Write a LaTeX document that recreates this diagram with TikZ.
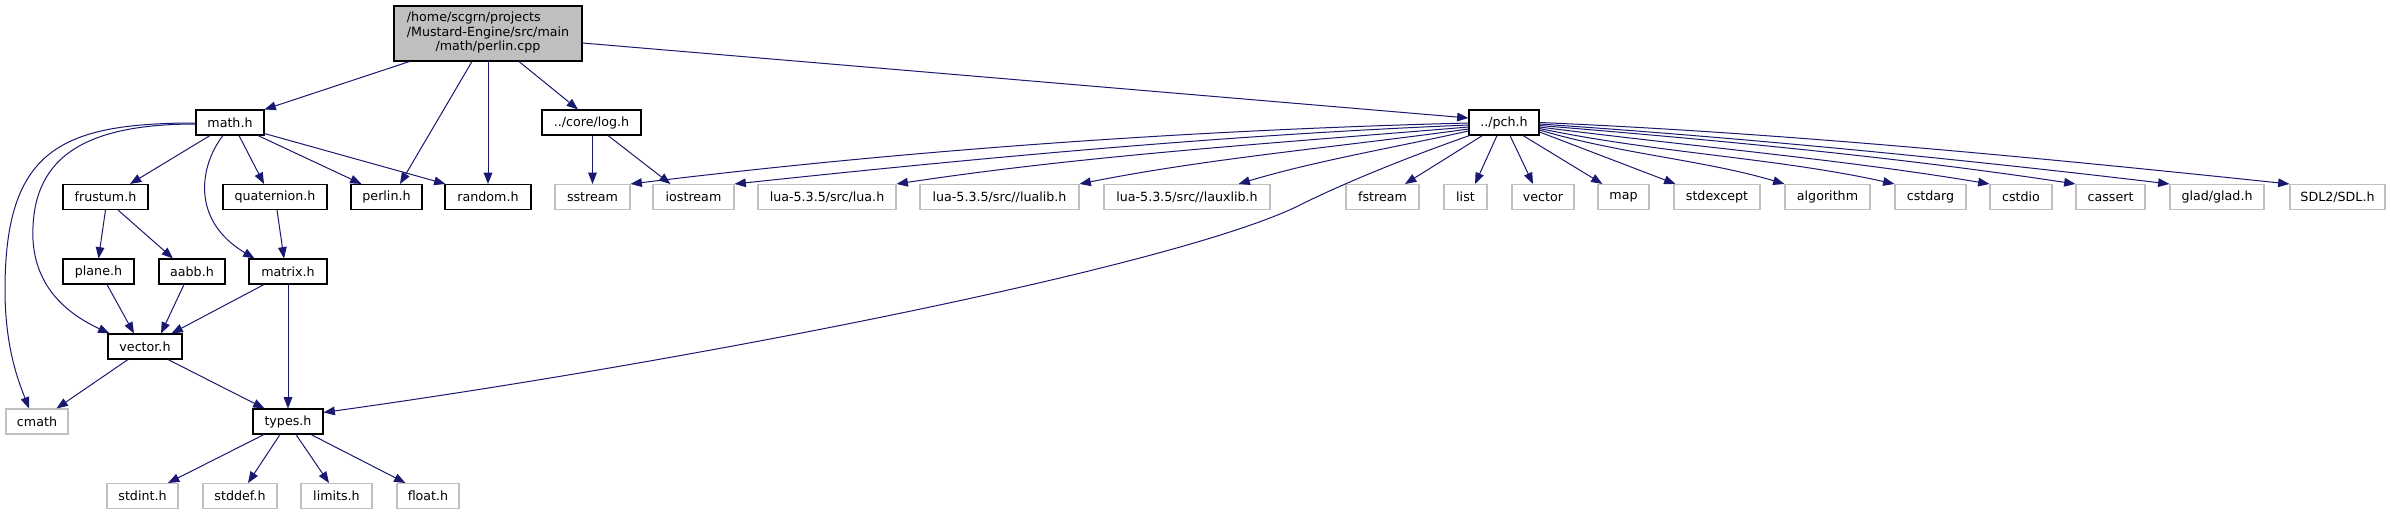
\documentclass[tikz,border=0pt]{standalone}
\usepackage{fontspec}
\setmainfont{DejaVu Sans}
\usetikzlibrary{arrows.meta,calc}
\definecolor{edgeblue}{HTML}{191970}
\definecolor{grayb}{HTML}{BFBFBF}
\begin{document}
\begin{tikzpicture}[x=0.75pt,y=-0.75pt,
  every node/.style={font=\fontsize{9.5pt}{10.9pt}\selectfont, inner sep=0pt, minimum height=18.75pt},
  pbox/.style={draw=black, line width=0.8pt, fill=white},
  sbox/.style={draw=grayb, line width=0.8pt, fill=white},
  conn/.style={draw=edgeblue, line width=0.75pt, -{Triangle[length=8.5pt,width=6.5pt]}},
]
\useasboundingbox[fill=white] (0,0) rectangle (2391,515);

% root
\node[draw=black, fill=grayb, line width=0.8pt, minimum width=188*0.75pt, minimum height=55*0.75pt] (perlincpp) at (488,33.5)
  {\begin{tabular}{@{}l@{}}/home/scgrn/projects\\/Mustard-Engine/src/main\\\multicolumn{1}{@{}c@{}}{/math/perlin.cpp}\end{tabular}};

% row 2
\node[pbox, minimum width=68*0.75pt] (mathh) at (230,122.5) {math.h};
\node[pbox, minimum width=99*0.75pt] (logh) at (591.5,122.5) {../core/log.h};
\node[pbox, minimum width=70*0.75pt] (pchh) at (1504,122.5) {../pch.h};

% row 3
\node[pbox, minimum width=85*0.75pt] (frustum) at (105.5,197) {frustum.h};
\node[pbox, minimum width=104*0.75pt] (quat) at (275,197) {quaternion.h};
\node[pbox, minimum width=71*0.75pt] (perlinh) at (386.5,197) {perlin.h};
\node[pbox, minimum width=86*0.75pt] (randomh) at (488,197) {random.h};
\node[sbox, minimum width=75*0.75pt] (sstream) at (592.5,197) {sstream};
\node[sbox, minimum width=81*0.75pt] (iostream) at (693.5,197) {iostream};
\node[sbox, minimum width=138*0.75pt] (luah) at (827,197) {lua-5.3.5/src/lua.h};
\node[sbox, minimum width=159*0.75pt] (lualib) at (999.5,197) {lua-5.3.5/src//lualib.h};
\node[sbox, minimum width=166*0.75pt] (lauxlib) at (1187,197) {lua-5.3.5/src//lauxlib.h};
\node[sbox, minimum width=73*0.75pt] (fstream) at (1382.5,197) {fstream};
\node[sbox, minimum width=43*0.75pt] (list) at (1465.5,197) {list};
\node[sbox, minimum width=62*0.75pt] (vectorstd) at (1543,197) {vector};
\node[sbox, minimum width=51*0.75pt] (map) at (1623.5,197) {map};
\node[sbox, minimum width=86*0.75pt] (stdexcept) at (1717,197) {stdexcept};
\node[sbox, minimum width=85*0.75pt] (algorithm) at (1827.5,197) {algorithm};
\node[sbox, minimum width=71*0.75pt] (cstdarg) at (1930.5,197) {cstdarg};
\node[sbox, minimum width=62*0.75pt] (cstdio) at (2021,197) {cstdio};
\node[sbox, minimum width=69*0.75pt] (cassert) at (2110.5,197) {cassert};
\node[sbox, minimum width=94*0.75pt] (glad) at (2217,197) {glad/glad.h};
\node[sbox, minimum width=95*0.75pt] (sdl) at (2337.5,197) {SDL2/SDL.h};

% row 4
\node[pbox, minimum width=71*0.75pt] (plane) at (98.5,271.5) {plane.h};
\node[pbox, minimum width=66*0.75pt] (aabb) at (192,271.5) {aabb.h};
\node[pbox, minimum width=78*0.75pt] (matrix) at (288,271.5) {matrix.h};

% row 5
\node[pbox, minimum width=74*0.75pt] (vectorh) at (145,346.5) {vector.h};

% row 6
\node[sbox, minimum width=62*0.75pt] (cmath) at (37,421.5) {cmath};
\node[pbox, minimum width=70*0.75pt] (types) at (288,421.5) {types.h};

% row 7
\node[sbox, minimum width=71*0.75pt] (stdint) at (142.5,496) {stdint.h};
\node[sbox, minimum width=74*0.75pt] (stddef) at (240,496) {stddef.h};
\node[sbox, minimum width=71*0.75pt] (limits) at (336.5,496) {limits.h};
\node[sbox, minimum width=62*0.75pt] (float) at (428,496) {float.h};

% edges from perlin.cpp
\draw[conn] ($(perlincpp.south west)+(16,0)$) -- (mathh.north east);
\draw[conn] ($(perlincpp.south)+(-16,0)$) -- ($(perlinh.north)+(13.5,0)$);
\draw[conn] (perlincpp.south) -- (randomh.north);
\draw[conn] ($(perlincpp.south)+(31,0)$) -- ($(logh.north)+(-13.5,0)$);
\draw[conn] ($(perlincpp.east)+(0,9.5)$) -- ($(pchh.west)+(0,-4.5)$);

% edges from math.h
\draw[conn] ($(mathh.south)+(-20,0)$) -- ($(frustum.north)+(24.5,0)$);
\draw[conn] ($(mathh.south)+(9,0)$) -- ($(quat.north)+(-11,0)$);
\draw[conn] ($(mathh.south)+(28,0)$) -- ($(perlinh.north west)+(11,0)$);
\draw[conn] ($(mathh.south east)+(0,-2)$) -- ($(randomh.north west)+(1,0)$);
\draw[conn] ($(mathh.south)+(-7,0)$) .. controls (200,165) and (190,220) .. ($(matrix.north west)+(6,0)$);
\draw[conn] ($(mathh.west)+(0,1.5)$) .. controls (80,124) and (30,160) .. (33,240) .. controls (36,290) and (70,315) .. ($(vectorh.north west)+(2,0)$);
\draw[conn] ($(mathh.west)+(0,0.5)$) .. controls (60,123) and (5,150) .. (5,290) .. controls (5,350) and (20,385) .. ($(cmath.north)+(-8,0)$);

% log.h
\draw[conn] ($(logh.south)+(1,0)$) -- (sstream.north);
\draw[conn] ($(logh.south)+(16.5,0)$) -- ($(iostream.north west)+(18,0)$);

% frustum, quaternion
\draw[conn] (frustum.south) -- (plane.north);
\draw[conn] ($(frustum.south)+(12.5,0)$) -- ($(aabb.north)+(-19,0)$);
\draw[conn] ($(quat.south)+(2,0)$) -- ($(matrix.north)+(-4,0)$);

% to vector.h
\draw[conn] ($(plane.south)+(8.5,0)$) -- ($(vectorh.north)+(-11,0)$);
\draw[conn] ($(aabb.south)+(-8,0)$) -- ($(vectorh.north)+(16,0)$);
\draw[conn] ($(matrix.south)+(-24,0)$) -- ($(vectorh.north east)+(-11,0)$);
\draw[conn] (matrix.south) -- (types.north);

% vector.h
\draw[conn] ($(vectorh.south)+(-17,0)$) -- ($(cmath.north east)+(-12,0)$);
\draw[conn] ($(vectorh.south)+(23,0)$) -- ($(types.north west)+(12,0)$);

% types.h
\draw[conn] ($(types.south)+(-24,0)$) -- ($(stdint.north)+(25.5,0)$);
\draw[conn] ($(types.south)+(-8,0)$) -- ($(stddef.north)+(8,0)$);
\draw[conn] ($(types.south)+(8,0)$) -- ($(limits.north)+(-7.5,0)$);
\draw[conn] ($(types.south)+(23,0)$) -- ($(float.north west)+(9,0)$);

% pch.h left fan
\draw[conn] ($(pchh.west)+(0,0.5)$) .. controls (1192,130) and (908,150) .. (sstream.north east);
\draw[conn] ($(pchh.west)+(0,2.5)$) .. controls (1224,135) and (979,158) .. (iostream.north east);
\draw[conn] ($(pchh.west)+(0,4.5)$) .. controls (1278,143) and (1088,155) .. (luah.north east);
\draw[conn] ($(pchh.west)+(0,6.5)$) .. controls (1339,147) and (1210,158) .. (lualib.north east);
\draw[conn] ($(pchh.west)+(0,8.5)$) .. controls (1392,148) and (1315,161) .. ($(lauxlib.north east)+(-32,0)$);
\draw[conn] ($(pchh.south west)+(1,0)$) .. controls (1400,160) and (1340,185) .. (1300,205) .. controls (1180,265) and (700,360) .. ($(types.north east)+(0,4)$);

% pch.h bottom
\draw[conn] ($(pchh.south west)+(14,0)$) -- ($(fstream.north)+(22.5,0)$);
\draw[conn] ($(pchh.south)+(-7,0)$) -- ($(list.north)+(9.5,0)$);
\draw[conn] ($(pchh.south)+(6,0)$) -- ($(vectorstd.north)+(-10,0)$);
\draw[conn] ($(pchh.south)+(19,0)$) -- ($(map.north west)+(5,0)$);

% pch.h right fan
\draw[conn] ($(pchh.east)+(0,9.5)$) -- ($(stdexcept.north west)+(2,0)$);
\draw[conn] ($(pchh.east)+(0,7.5)$) .. controls (1620,154) and (1704,160) .. (algorithm.north west);
\draw[conn] ($(pchh.east)+(0,6)$) .. controls (1656,153) and (1778,158) .. (cstdarg.north west);
\draw[conn] ($(pchh.east)+(0,4.5)$) .. controls (1687,146) and (1840,159) .. (cstdio.north west);
\draw[conn] ($(pchh.east)+(0,3)$) .. controls (1716,140) and (1897,157) .. (cassert.north west);
\draw[conn] ($(pchh.east)+(0,1.5)$) .. controls (1747,138) and (1960,159) .. (glad.north west);
\draw[conn] (pchh.east) .. controls (1786,133) and (2041,158) .. (sdl.north west);
\end{tikzpicture}
\end{document}
